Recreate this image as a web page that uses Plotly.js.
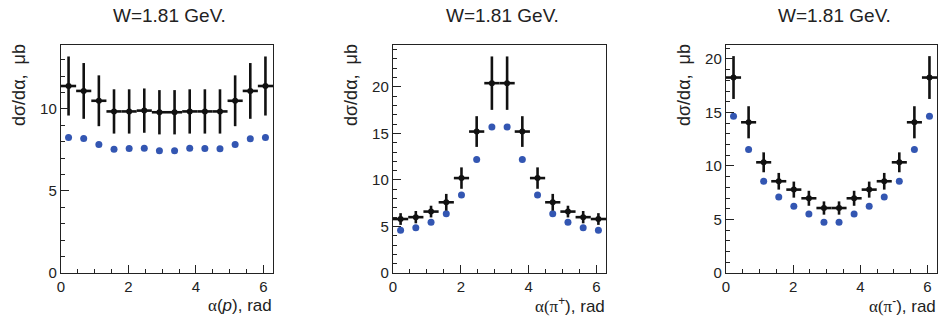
<!DOCTYPE html>
<html><head><meta charset="utf-8">
<script src="https://cdn.plot.ly/plotly-3.0.1.min.js"></script>
<style>body{margin:0;background:#fff}#c{width:940px;height:322px}</style>
</head><body><div id="c"></div>
<script>
// bin centres (14 bins over 0..2π)
const alpha = [0.224, 0.673, 1.122, 1.571, 2.020, 2.468, 2.917, 3.366, 3.815, 4.264, 4.712, 5.161, 5.610, 6.059];
const binHalfWidth = 0.2244;

// panel 1: α(p)
const pData = [11.4, 11.1, 10.5, 9.85, 9.85, 9.9, 9.8, 9.8, 9.85, 9.85, 9.85, 10.5, 11.1, 11.4];
const pErr  = [1.8, 1.7, 1.55, 1.35, 1.35, 1.35, 1.35, 1.35, 1.35, 1.35, 1.35, 1.55, 1.7, 1.8];
const pModel = [8.26, 8.2, 7.83, 7.55, 7.59, 7.6, 7.46, 7.46, 7.6, 7.59, 7.57, 7.83, 8.18, 8.26];

// panel 2: α(π+)
const pipData = [5.8, 6.0, 6.6, 7.6, 10.2, 15.2, 20.4, 20.4, 15.2, 10.2, 7.6, 6.6, 6.0, 5.8];
const pipErr  = [0.63, 0.66, 0.63, 0.9, 1.15, 1.65, 2.87, 2.87, 1.65, 1.15, 0.9, 0.63, 0.66, 0.63];
const pipModel = [4.59, 4.87, 5.45, 6.38, 8.39, 12.2, 15.7, 15.7, 12.2, 8.39, 6.38, 5.45, 4.87, 4.59];

// panel 3: α(π-)
const pimData = [18.26, 14.08, 10.34, 8.57, 7.79, 6.98, 6.07, 6.07, 6.98, 7.79, 8.57, 10.34, 14.08, 18.26];
const pimErr  = [2.0, 1.5, 0.93, 0.78, 0.75, 0.7, 0.62, 0.62, 0.7, 0.75, 0.78, 0.93, 1.5, 2.0];
const pimModel = [14.64, 11.53, 8.57, 7.1, 6.23, 5.51, 4.73, 4.73, 5.51, 6.23, 7.1, 8.57, 11.53, 14.64];

const panelTitle = "W=1.81 GeV.";
const yTitle = "dσ/dα,  μb";
const serif = s => '<span style="font-family:Liberation Serif, serif">' + s + '</span>';
const xTitles = [
  serif("α") + "(<i>p</i>), rad",
  serif("α(π") + "<sup>+</sup>), rad",
  serif("α(π") + "<sup>-</sup>), rad"
];
const yMax = [13.9, 24.5, 21.3];

const panels = [[pData, pErr, pModel], [pipData, pipErr, pipModel], [pimData, pimErr, pimModel]];
const xDom = [[61, 273], [393, 606], [726, 937]];
const W = 940, H = 322;
const yDom = [(H - 273) / H, (H - 45) / H];

const traces = [];
const layout = {
  width: W, height: H, margin: {l: 0, r: 0, t: 0, b: 0},
  paper_bgcolor: '#fff', plot_bgcolor: '#fff', showlegend: false,
  font: {family: 'Liberation Sans, Arial, sans-serif', color: '#222'},
  annotations: []
};

panels.forEach((p, i) => {
  const sfx = i === 0 ? '' : String(i + 1);
  traces.push({
    x: alpha, y: p[2], type: 'scatter', mode: 'markers',
    xaxis: 'x' + sfx, yaxis: 'y' + sfx,
    marker: {color: '#3356b2', size: 7}, hoverinfo: 'skip'
  });
  traces.push({
    x: alpha, y: p[0], type: 'scatter', mode: 'markers',
    xaxis: 'x' + sfx, yaxis: 'y' + sfx,
    marker: {color: '#111', size: 6},
    error_y: {type: 'data', array: p[1], width: 0, thickness: 2.6, color: '#111'},
    error_x: {type: 'constant', value: binHalfWidth, width: 0, thickness: 2.6, color: '#111'},
    hoverinfo: 'skip'
  });
  const common = {
    showline: true, mirror: true, linecolor: '#222', linewidth: 1.2,
    showgrid: false, zeroline: false, ticks: 'inside', tickcolor: '#222',
    ticklen: 8, tickwidth: 1, tickfont: {size: 15, color: '#222'}
  };
  layout['xaxis' + sfx] = Object.assign({}, common, {
    domain: [xDom[i][0] / W, xDom[i][1] / W], anchor: 'y' + sfx,
    range: [0, 6.2832], tickvals: [0, 2, 4, 6], ticktext: ['0', '2', '4', '6'],
    minor: {dtick: 0.5, tick0: 0, ticks: 'inside', ticklen: 4, tickcolor: '#222', showgrid: false}
  });
  layout['yaxis' + sfx] = Object.assign({}, common, {
    domain: yDom, anchor: 'x' + sfx,
    range: [0, yMax[i]], dtick: 5, tick0: 0,
    minor: {dtick: 1, tick0: 0, ticks: 'inside', ticklen: 4, tickcolor: '#222', showgrid: false}
  });
  const cx = (xDom[i][0] + xDom[i][1]) / 2 / W;
  layout.annotations.push({
    text: panelTitle, xref: 'paper', yref: 'paper', x: cx + 0.003, y: 1 - 15 / H,
    xanchor: 'center', yanchor: 'middle', showarrow: false,
    font: {size: 19, color: '#222'}
  });
  layout.annotations.push({
    text: yTitle, xref: 'paper', yref: 'paper', x: (xDom[i][0] - 42) / W, y: 1 - 42 / H,
    xanchor: 'center', yanchor: 'top', textangle: -90, showarrow: false,
    font: {size: 18, color: '#222'}
  });
  layout.annotations.push({
    text: xTitles[i], xref: 'paper', yref: 'paper', x: (xDom[i][1] + 1) / W, y: 1 - 305 / H,
    xanchor: 'right', yanchor: 'middle', showarrow: false,
    font: {size: 17, color: '#222'}
  });
});

Plotly.newPlot('c', traces, layout, {staticPlot: true});
</script></body></html>
